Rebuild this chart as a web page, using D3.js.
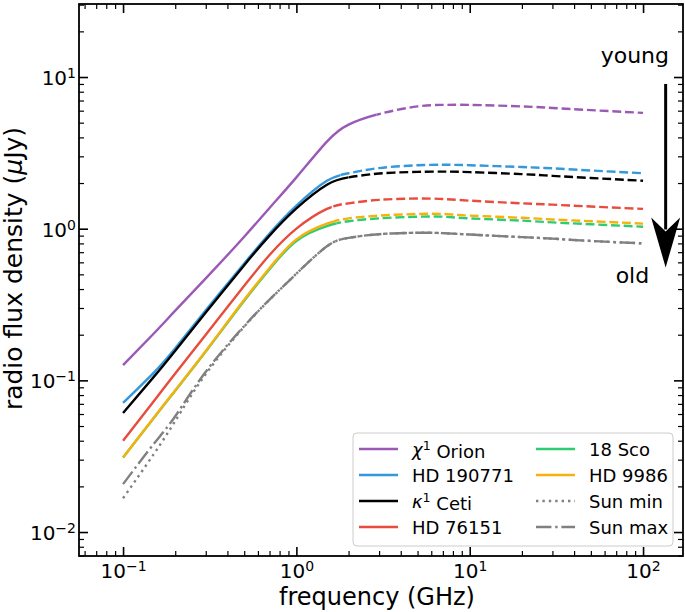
<!DOCTYPE html>
<html><head><meta charset="utf-8">
<script src="https://cdn.jsdelivr.net/npm/d3@7"></script>
<style>
body{margin:0;background:#fff}
svg{display:block}
text{font-family:"DejaVu Sans",sans-serif;fill:#000}
</style>
</head><body>
<svg id="chart" width="685" height="612"></svg>
<script>
// ---------------- data ----------------
const freq     = [0.1, 0.15, 0.2, 0.3, 0.5, 0.7, 1, 1.5, 2, 3, 5, 7, 10, 20, 30, 50, 100]; // GHz
const chiOri   = [0.126, 0.203, 0.288, 0.47, 0.885, 1.37, 2.18, 3.75, 4.85, 5.7, 6.4, 6.55, 6.55, 6.4, 6.25, 6.05, 5.8];
const hd190771 = [0.071, 0.112, 0.163, 0.29, 0.59, 0.93, 1.42, 2.07, 2.32, 2.51, 2.62, 2.64, 2.62, 2.55, 2.50, 2.42, 2.32];
const kapCet   = [0.061, 0.105, 0.157, 0.28, 0.575, 0.90, 1.36, 1.95, 2.18, 2.31, 2.37, 2.38, 2.36, 2.29, 2.23, 2.16, 2.07];
const hd76151  = [0.040, 0.0725, 0.111, 0.20, 0.42, 0.67, 1.0, 1.35, 1.47, 1.55, 1.58, 1.57, 1.53, 1.47, 1.44, 1.40, 1.35];
const sco18    = [0.031, 0.0563, 0.0855, 0.155, 0.335, 0.54, 0.83, 1.04, 1.12, 1.17, 1.20, 1.20, 1.17, 1.13, 1.10, 1.07, 1.03];
const hd9986   = [0.031, 0.0565, 0.086, 0.156, 0.34, 0.55, 0.85, 1.08, 1.17, 1.22, 1.25, 1.25, 1.22, 1.18, 1.15, 1.12, 1.08];
const sunMin   = [0.0167, 0.0325, 0.054, 0.11, 0.226, 0.34, 0.505, 0.765, 0.87, 0.92, 0.94, 0.935, 0.915, 0.88, 0.86, 0.83, 0.80];
const sunMax   = [0.0207, 0.038, 0.058, 0.114, 0.228, 0.341, 0.505, 0.765, 0.87, 0.92, 0.94, 0.935, 0.915, 0.88, 0.86, 0.83, 0.80];
// frequency (GHz) above which each stellar curve is drawn dashed
const breakFreq = [2.9, 1.8, 2.0, 1.6, 1.7, 1.65, null, null];

const seriesNames = ["χ¹ Orion", "HD 190771", "κ¹ Ceti", "HD 76151", "18 Sco", "HD 9986", "Sun min", "Sun max"];
const seriesValues = [chiOri, hd190771, kapCet, hd76151, sco18, hd9986, sunMin, sunMax];

const xMajorTicks = [0.1, 1, 10, 100];
const xTickExp    = ["−1", "0", "1", "2"];
const yMajorTicks = [0.01, 0.1, 1, 10];
const yTickExp    = ["−2", "−1", "0", "1"];

const xLabel = "frequency (GHz)";
const yLabelParts = ["radio flux density  (", "μ", "Jy)"];
const annYoung = "young", annOld = "old";

// ---------------- styles ----------------
const colors = ["#9b59b6", "#3498db", "#000000", "#e74c3c", "#2ecc71", "#f7b10c", "#808080", "#808080"];
const baseDash = [null, null, null, null, null, null, "2.4,4", "15.4,3.8,2.4,3.8"];
const LW = 2.4;
const DASHED = "8.9,3.8";

// ---------------- layout ----------------
const W = 685, H = 612;
const L = 79, R = 683, T = 4, B = 556;
const svg = d3.select("#chart");

const x = d3.scaleLog().domain([0.0557, 170]).range([L, R]);
const y = d3.scaleLog().domain([0.00695, 30.3]).range([B, T]);

function minorTicks(dom) {
  const out = [];
  const k0 = Math.floor(Math.log10(dom[0])), k1 = Math.ceil(Math.log10(dom[1]));
  for (let k = k0; k <= k1; k++) for (let m = 2; m <= 9; m++) {
    const v = m * Math.pow(10, k);
    if (v > dom[0] && v < dom[1]) out.push(v);
  }
  return out;
}
const xMinor = minorTicks(x.domain()), yMinor = minorTicks(y.domain());

function styleAxis(g, w) {
  g.select(".domain").remove();
  g.selectAll(".tick line").attr("stroke", "#000").attr("stroke-width", w);
}
function supLabels(g, exps, size) {
  g.selectAll(".tick text").each(function(d, i) {
    const t = d3.select(this);
    t.text(null).attr("font-size", size).attr("fill", "#000");
    t.append("tspan").text("10");
    t.append("tspan").attr("dy", "-0.5em").attr("font-size", "0.7em").text(exps[i]);
  });
}

// ---- curves ----
const defs = svg.append("defs");
const plot = svg.append("g");
const line = d3.line().x(d => x(d.f)).y(d => y(d.v)).curve(d3.curveNatural);

seriesValues.forEach((vals, i) => {
  const pts = freq.map((f, j) => ({f: f, v: vals[j]}));
  const dStr = line(pts);
  if (breakFreq[i] != null) {
    const xb = x(breakFreq[i]);
    defs.append("clipPath").attr("id", "cs" + i).append("rect")
      .attr("x", 0).attr("y", 0).attr("width", xb).attr("height", H);
    defs.append("clipPath").attr("id", "cd" + i).append("rect")
      .attr("x", xb).attr("y", 0).attr("width", W - xb).attr("height", H);
    plot.append("path").attr("d", dStr).attr("fill", "none").attr("stroke", colors[i])
      .attr("stroke-width", LW).attr("clip-path", "url(#cs" + i + ")");
    plot.append("path").attr("d", dStr).attr("fill", "none").attr("stroke", colors[i])
      .attr("stroke-width", LW).attr("stroke-dasharray", DASHED).attr("clip-path", "url(#cd" + i + ")");
  } else {
    plot.append("path").attr("d", dStr).attr("fill", "none").attr("stroke", colors[i])
      .attr("stroke-width", LW).attr("stroke-dasharray", baseDash[i]);
  }
});

// ---- axes (inward ticks on all sides) ----
const gxb = svg.append("g").attr("transform", `translate(0,${B})`)
  .call(d3.axisBottom(x).tickValues(xMajorTicks).tickSize(-9).tickSizeOuter(0).tickPadding(7.5));
styleAxis(gxb, 1.6); supLabels(gxb, xTickExp, 20);
const gxbm = svg.append("g").attr("transform", `translate(0,${B})`)
  .call(d3.axisBottom(x).tickValues(xMinor).tickSize(-5).tickSizeOuter(0).tickFormat(""));
styleAxis(gxbm, 1.2);
const gxt = svg.append("g").attr("transform", `translate(0,${T})`)
  .call(d3.axisTop(x).tickValues(xMajorTicks).tickSize(-9).tickSizeOuter(0).tickFormat(""));
styleAxis(gxt, 1.6);
const gxtm = svg.append("g").attr("transform", `translate(0,${T})`)
  .call(d3.axisTop(x).tickValues(xMinor).tickSize(-5).tickSizeOuter(0).tickFormat(""));
styleAxis(gxtm, 1.2);

const gyl = svg.append("g").attr("transform", `translate(${L},0)`)
  .call(d3.axisLeft(y).tickValues(yMajorTicks).tickSize(-9).tickSizeOuter(0).tickPadding(3));
styleAxis(gyl, 1.6); supLabels(gyl, yTickExp, 20);
gyl.selectAll(".tick text").attr("dy", "0.38em");
const gylm = svg.append("g").attr("transform", `translate(${L},0)`)
  .call(d3.axisLeft(y).tickValues(yMinor).tickSize(-5).tickSizeOuter(0).tickFormat(""));
styleAxis(gylm, 1.2);
const gyr = svg.append("g").attr("transform", `translate(${R},0)`)
  .call(d3.axisRight(y).tickValues(yMajorTicks).tickSize(-9).tickSizeOuter(0).tickFormat(""));
styleAxis(gyr, 1.6);
const gyrm = svg.append("g").attr("transform", `translate(${R},0)`)
  .call(d3.axisRight(y).tickValues(yMinor).tickSize(-5).tickSizeOuter(0).tickFormat(""));
styleAxis(gyrm, 1.2);

// frame
svg.append("rect").attr("x", L).attr("y", T).attr("width", R - L).attr("height", B - T)
  .attr("fill", "none").attr("stroke", "#000").attr("stroke-width", 1.8);

// ---- axis labels ----
svg.append("text").attr("x", (L + R) / 2 - 4).attr("y", 605).attr("text-anchor", "middle")
  .attr("font-size", 24).text(xLabel);
const yl = svg.append("text").attr("transform", `translate(22,268.5) rotate(-90)`)
  .attr("text-anchor", "middle").attr("font-size", 25);
yl.append("tspan").text(yLabelParts[0]);
yl.append("tspan").attr("font-style", "italic").text(yLabelParts[1]);
yl.append("tspan").text(yLabelParts[2]);

// ---- young -> old annotation ----
svg.append("text").attr("x", x(89.7)).attr("y", y(12.4)).attr("text-anchor", "middle")
  .attr("font-size", 22).text(annYoung);
svg.append("text").attr("x", x(86.8)).attr("y", y(0.438)).attr("text-anchor", "middle")
  .attr("font-size", 22).text(annOld);
const ax = x(135), ay0 = y(9.0), ay1 = y(0.555);
svg.append("line").attr("x1", ax).attr("x2", ax).attr("y1", ay0).attr("y2", ay1 - 38)
  .attr("stroke", "#000").attr("stroke-width", 3);
svg.append("path").attr("fill", "#000")
  .attr("d", `M${ax},${ay1} L${ax - 14.5},${ay1 - 50} L${ax},${ay1 - 36} L${ax + 14.5},${ay1 - 50} Z`);

// ---- legend ----
const leg = svg.append("g");
leg.append("rect").attr("x", 353).attr("y", 433).attr("width", 320).attr("height", 113)
  .attr("rx", 4).attr("fill", "#fff").attr("fill-opacity", 0.8)
  .attr("stroke", "#cccccc").attr("stroke-width", 1);
const colX = [359, 536], rowY = [449, 475, 501, 527];
seriesNames.forEach((name, i) => {
  const c = Math.floor(i / 4), r = i % 4;
  const g = leg.append("g").attr("transform", `translate(${colX[c]},${rowY[r]})`);
  g.append("line").attr("x1", 0).attr("x2", 39).attr("y1", 0).attr("y2", 0)
    .attr("stroke", colors[i]).attr("stroke-width", LW).attr("stroke-dasharray", baseDash[i]);
  const t = g.append("text").attr("x", 53).attr("y", 6.5).attr("font-size", 18);
  const m = name.match(/^([χκ])¹(.*)$/);
  if (m) {
    t.append("tspan").attr("font-style", "italic").text(m[1]);
    t.append("tspan").attr("dy", "-0.45em").attr("font-size", "0.7em").text("1");
    t.append("tspan").attr("dy", "0.45em").text(m[2]);
  } else {
    t.text(name);
  }
});
</script>
</body></html>
